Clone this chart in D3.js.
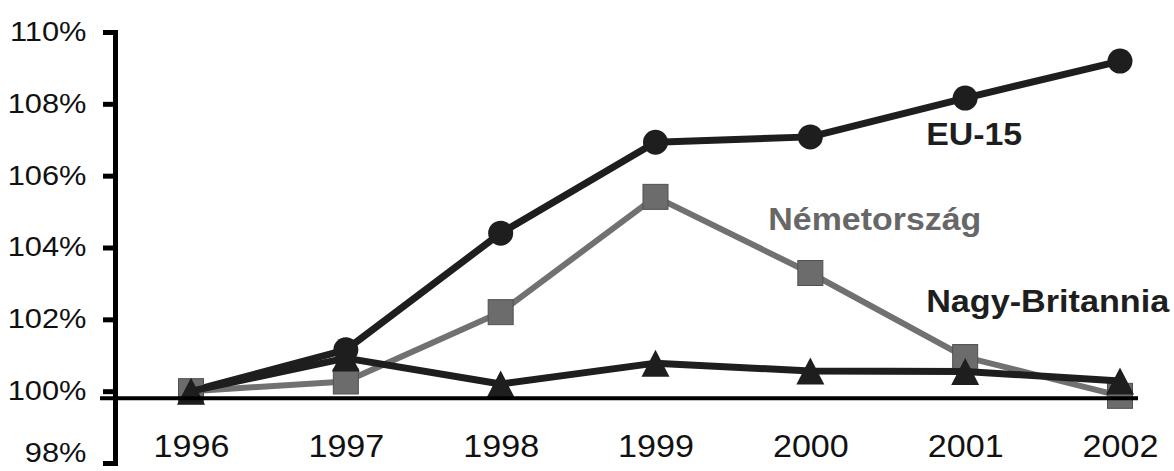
<!DOCTYPE html>
<html>
<head>
<meta charset="utf-8">
<script src="https://cdn.jsdelivr.net/npm/d3@7"></script>
<style>
  html, body { margin: 0; padding: 0; background: #fff; }
  svg { display: block; }
  text { font-family: "Liberation Sans", Arial, Helvetica, sans-serif; }
</style>
</head>
<body>
<svg id="chart" width="1174" height="471"></svg>
<script>
// ---- data ----
const years = ["1996", "1997", "1998", "1999", "2000", "2001", "2002"];
const eu15 = [100, 101.15, 104.4, 106.93, 107.08, 108.16, 109.19];
const germany = [100, 100.27, 102.2, 105.41, 103.29, 100.95, 99.87];
const uk = [100, 100.92, 100.2, 100.78, 100.56, 100.55, 100.28];
const yTicks = [98, 100, 102, 104, 106, 108, 110];
const baselineValue = 99.8;
const seriesNames = ["EU-15", "Németország", "Nagy-Britannia"];

// ---- layout ----
const W = 1174, H = 471;
const axisX = 115;
const svg = d3.select("#chart");

const x = d3.scalePoint().domain(years).range([191, 1120]).padding(0);
const y = d3.scaleLinear().domain([98, 110]).range([463, 32]);

const dark = "#1e1e1e";
const grey = "#717171";

// y axis
const yAxis = d3.axisLeft(y)
  .tickValues(yTicks)
  .tickFormat(d => d + "%")
  .tickSize(12)
  .tickSizeOuter(12)
  .tickPadding(14);
const gy = svg.append("g").attr("transform", `translate(${axisX},0)`).call(yAxis);
gy.select(".domain").attr("stroke", "#000").attr("stroke-width", 5).attr("fill", "none");
gy.selectAll(".tick line").attr("stroke", "#000").attr("stroke-width", 5);
gy.selectAll(".tick text")
  .attr("fill", "#111")
  .attr("font-size", 28)
  .attr("dy", d => d === yTicks[0] ? "-0.05em" : "0.3em")
  .attr("transform", "scale(1.1,1)");

// x labels
const xAxis = d3.axisBottom(x).tickSize(0).tickPadding(0);
const gx = svg.append("g").attr("transform", "translate(0,457)").call(xAxis);
gx.select(".domain").remove();
gx.selectAll(".tick text")
  .attr("fill", "#111")
  .attr("font-size", 31)
  .attr("y", 0)
  .attr("dy", 0)
  .attr("transform", "scale(1.1,1)");

const line = d3.line().x((d, i) => x(years[i])).y(d => y(d));

// EU-15
svg.append("path").datum(eu15).attr("d", line)
  .attr("fill", "none").attr("stroke", dark).attr("stroke-width", 7).attr("stroke-linejoin", "round");
svg.append("g").selectAll("circle").data(eu15).join("circle")
  .attr("cx", (d, i) => x(years[i])).attr("cy", d => y(d)).attr("r", 12.5)
  .attr("fill", dark);

// Németország
svg.append("path").datum(germany).attr("d", line)
  .attr("fill", "none").attr("stroke", grey).attr("stroke-width", 6).attr("stroke-linejoin", "round");
svg.append("g").selectAll("rect").data(germany).join("rect")
  .attr("x", (d, i) => x(years[i]) - 12.5).attr("y", d => y(d) - 12.5)
  .attr("width", 25).attr("height", 25)
  .attr("fill", "#6c6c6c").attr("stroke", "#505050").attr("stroke-width", 1);

// Nagy-Britannia
svg.append("path").datum(uk).attr("d", line)
  .attr("fill", "none").attr("stroke", dark).attr("stroke-width", 7).attr("stroke-linejoin", "round");
svg.append("g").selectAll("path").data(uk).join("path")
  .attr("d", "M0,-13.5L14,13.5L-14,13.5Z")
  .attr("transform", (d, i) => `translate(${x(years[i])},${y(d)})`)
  .attr("fill", dark);

// baseline
svg.append("line")
  .attr("x1", axisX - 15).attr("x2", x.range()[1] + 18)
  .attr("y1", y(baselineValue)).attr("y2", y(baselineValue))
  .attr("stroke", "#000").attr("stroke-width", 4);

// series labels
svg.append("text").text(seriesNames[0])
  .attr("x", x("2001") - 39).attr("y", y(106.86))
  .attr("font-size", 31).attr("font-weight", "bold").attr("fill", dark)
  .attr("textLength", 96).attr("lengthAdjust", "spacingAndGlyphs");
svg.append("text").text(seriesNames[1])
  .attr("x", x("2000") - 42).attr("y", y(104.49))
  .attr("font-size", 31).attr("font-weight", "bold").attr("fill", "#676767")
  .attr("textLength", 213).attr("lengthAdjust", "spacingAndGlyphs");
svg.append("text").text(seriesNames[2])
  .attr("x", x("2001") - 39).attr("y", y(102.2))
  .attr("font-size", 31).attr("font-weight", "bold").attr("fill", dark)
  .attr("textLength", 243).attr("lengthAdjust", "spacingAndGlyphs");
</script>
</body>
</html>
